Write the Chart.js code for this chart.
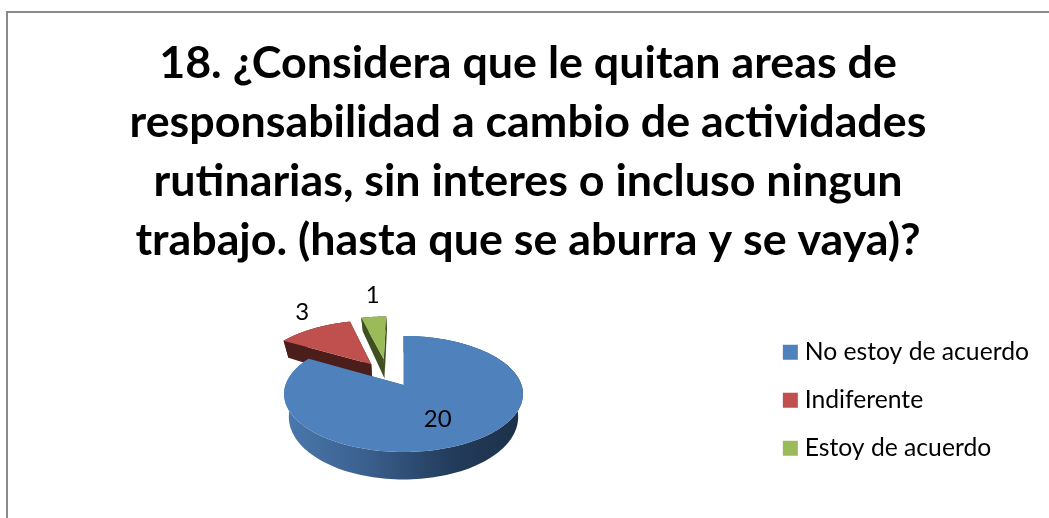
<!DOCTYPE html>
<html><head><meta charset="utf-8">
<style>html,body{margin:0;padding:0;background:#fff}#w{width:1049px;height:518px;position:relative}</style>
<script src="https://cdn.jsdelivr.net/npm/chart.js@4"></script>
</head><body><div id="w"><canvas id="c" width="1049" height="518"></canvas></div>
<script>
const categories = ["No estoy de acuerdo", "Indiferente", "Estoy de acuerdo"];
const values = [20, 3, 1];
const colors = ["#4f81bd", "#c0504d", "#9bbb59"];
const sideColors = ["#2c4a70", "#4c1e1b", "#3f4f20"];
const titleLines = ["18. ¿Considera que le quitan areas de", "responsabilidad a cambio de actividades", "rutinarias, sin interes o incluso ningun", "trabajo. (hasta que se aburra y se vaya)?"];
// drawing style: slice explosion and label anchors in disc units
const explode = [[0, 0], [-0.29, -0.39], [-0.18, -0.49]];
const labelUV = [[0.265, 0.56], [-1.07, -1.6], [-0.345, -2.1]];
const view = {cx: 403.5, cy: 385, rx: 118, ry: 56.6, p: 0.155};

function proj(u, v, z) {
  const w = 1 - view.p * v;
  return [view.cx + view.rx * u / w * (1 - 0.04 * z), view.cy + view.ry * v / w + z * (22 + 5.5 * v)];
}
function rim(a, e) { return [Math.cos(a) + e[0], Math.sin(a) + e[1]]; }

const pie3d = {
  id: "pie3d",
  beforeDatasetDraw(chart) {
    const ctx = chart.ctx, arcs = chart.getDatasetMeta(0).data;
    const poly = (pts, fill) => {
      ctx.beginPath();
      pts.forEach((q, i) => i ? ctx.lineTo(q[0], q[1]) : ctx.moveTo(q[0], q[1]));
      ctx.closePath(); ctx.fillStyle = fill; ctx.fill();
    };
    ctx.save();
    [1, 2, 0].forEach(i => {
      const el = arcs[i], e = explode[i], a0 = el.startAngle, a1 = el.endAngle, n = 160;
      const top = [proj(e[0], e[1], 0)], low = [];
      for (let k = 0; k <= n; k++) {
        const r = rim(a0 + (a1 - a0) * k / n, e);
        top.push(proj(r[0], r[1], 0)); low.push(proj(r[0], r[1], 1));
      }
      const apexLow = proj(e[0], e[1], 1);
      let sideFill = sideColors[i];
      if (i === 0) {
        const g = ctx.createLinearGradient(view.cx - view.rx, 0, view.cx + view.rx, 0);
        g.addColorStop(0, "#4a78ad"); g.addColorStop(0.35, "#3a5f8c");
        g.addColorStop(0.7, "#233c5c"); g.addColorStop(1, "#1c3049");
        sideFill = g;
      }
      poly([top[0], top[1], low[0], apexLow], sideColors[i]);
      poly([top[0], top[n + 1], low[n], apexLow], sideColors[i]);
      poly(top.slice(1).concat(low.slice().reverse()), sideFill);
      poly(top, colors[i]);
    });
    ctx.fillStyle = "#000"; ctx.font = "24px Lato"; ctx.textAlign = "center"; ctx.textBaseline = "middle";
    values.forEach((val, i) => {
      const q = proj(labelUV[i][0], labelUV[i][1], 0);
      ctx.fillText(String(val), q[0], q[1]);
    });
    ctx.restore();
    return false;
  },
  beforeDraw(chart) {
    const ctx = chart.ctx;
    ctx.save(); ctx.strokeStyle = "#8a8a8a"; ctx.lineWidth = 2;
    ctx.strokeRect(7, 12, 2000, 2000); ctx.restore();
  }
};

new Chart(document.getElementById("c"), {
  type: "pie",
  data: {labels: categories, datasets: [{data: values, backgroundColor: colors, borderWidth: 0}]},
  options: {
    responsive: false, animation: false,
    rotation: 0,
    layout: {padding: {top: 34, right: 10, left: 17}},
    plugins: {
      tooltip: {enabled: false},
      title: {display: true, text: titleLines, color: "#000", font: {family: "Lato", size: 44.8, weight: "bold", lineHeight: 1.32}, padding: {top: 0, bottom: 46}},
      legend: {position: "right", align: "start", fullSize: false, labels: {
        color: "#000", font: {family: "Lato", size: 24.7}, boxWidth: 4, boxHeight: 4, padding: 23.3,
        generateLabels: chart => categories.map((text, i) => ({text, fillStyle: colors[i], strokeStyle: colors[i], lineWidth: 11, index: i, hidden: false, fontColor: "#000"}))
      }}
    }
  },
  plugins: [pie3d]
});
</script></body></html>
